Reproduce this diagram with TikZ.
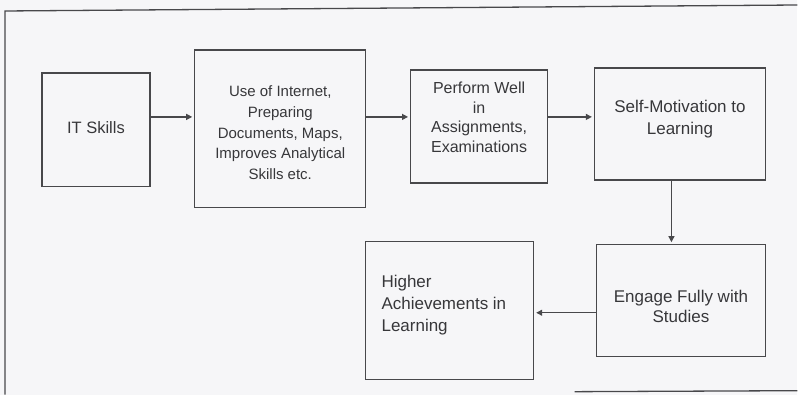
\documentclass[tikz,border=0pt]{standalone}
\usepackage{fontspec}
\setmainfont{Liberation Sans}
\usetikzlibrary{arrows.meta}
\definecolor{bgc}{RGB}{246,246,248}
\definecolor{ink}{RGB}{72,72,75}
\definecolor{txt}{RGB}{55,55,58}
\begin{document}
\begin{tikzpicture}[x=1pt,y=-1pt,
  box/.style={draw=ink, line width=1.3pt, rectangle, inner sep=0pt},
  arr/.style={draw=ink, line width=1.2pt, -{Triangle[length=6pt,width=6pt]}, shorten >=2pt},
  tx/.style={text=txt, align=center}]
\fill[bgc] (0,0) rectangle (798,395);
\draw[ink, line width=1.3pt] (5,395) -- (5,11) -- (798,5);
\draw[ink, line width=1.3pt] (575,392) -- (798,391);

\node[box, minimum width=108pt, minimum height=114pt,
  label={[tx, font=\fontsize{16.5}{20}\selectfont, yshift=2pt]center:IT Skills}] (it) at (96,130) {};
\node[box, minimum width=171pt, minimum height=158pt,
  label={[tx, font=\fontsize{15}{20.7}\selectfont, yshift=-4pt]center:Use of Internet,\\Preparing\\Documents, Maps,\\Improves Analytical\\Skills etc.}] (use) at (280.5,129) {};
\node[box, minimum width=137pt, minimum height=113pt,
  label={[tx, font=\fontsize{16}{19.7}\selectfont, yshift=9pt]center:Perform Well\\in\\Assignments,\\Examinations}] (perf) at (479.5,126.5) {};
\node[box, minimum width=171pt, minimum height=112pt,
  label={[tx, font=\fontsize{17}{22}\selectfont, yshift=5pt]center:Self-Motivation to\\Learning}] (self) at (680.5,124) {};
\node[box, minimum width=169pt, minimum height=112pt,
  label={[tx, font=\fontsize{17}{20}\selectfont, yshift=-6pt]center:Engage Fully with\\Studies}] (eng) at (681.5,301) {};
\node[box, minimum width=168pt, minimum height=138pt,
  label={[tx, align=left, font=\fontsize{17}{22}\selectfont, anchor=west, xshift=13pt, yshift=6pt]west:Higher\\Achievements in\\Learning}] (high) at (450,311) {};

\coordinate (ya) at (0,117);
\coordinate (yb) at (0,313);
\coordinate (xv) at (672,0);
\draw[arr] (it.east |- ya) -- (use.west |- ya);
\draw[arr] (use.east |- ya) -- (perf.west |- ya);
\draw[arr] (perf.east |- ya) -- (self.west |- ya);
\draw[arr] (self.south -| xv) -- (eng.north -| xv);
\draw[arr] (eng.west |- yb) -- (high.east |- yb);
\end{tikzpicture}
\end{document}
